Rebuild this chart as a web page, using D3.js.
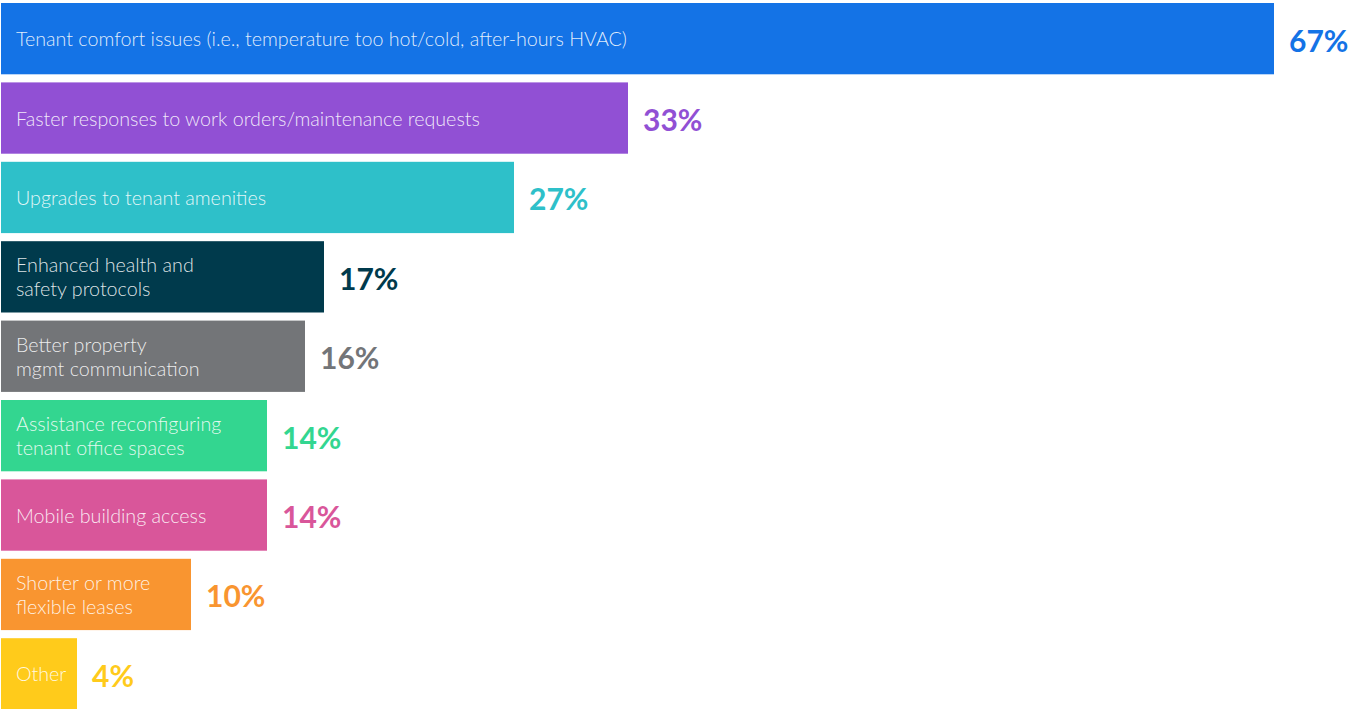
<!DOCTYPE html>
<html>
<head>
<meta charset="utf-8">
<script src="https://cdn.jsdelivr.net/npm/d3@7"></script>
<style>
  html, body { margin: 0; padding: 0; background: #ffffff; }
  svg { display: block; }
  .bar-label { font-family: Lato, "Open Sans", sans-serif; font-weight: 300; font-size: 19.7px; fill: #ffffff; fill-opacity: 0.88; }
  .value-label { font-family: Lato, "Open Sans", sans-serif; font-weight: 700; font-size: 30px; }
</style>
</head>
<body>
<svg id="chart" width="1350" height="709"></svg>
<script>
// Share of respondents citing each improvement
const categories = [
  ["Tenant comfort issues (i.e., temperature too hot/cold, after-hours HVAC)"],
  ["Faster responses to work orders/maintenance requests"],
  ["Upgrades to tenant amenities"],
  ["Enhanced health and", "safety protocols"],
  ["Better property", "mgmt communication"],
  ["Assistance reconfiguring", "tenant office spaces"],
  ["Mobile building access"],
  ["Shorter or more", "flexible leases"],
  ["Other"]
];
const values = [67, 33, 27, 17, 16, 14, 14, 10, 4];
const colors = ["#1473e6", "#9150d4", "#2ec0c9", "#003a4c", "#737578", "#33d690", "#d9569a", "#f99530", "#ffcb1b"];

const svg = d3.select("#chart");
const x0 = 1;

const x = d3.scaleLinear().domain([0, 67]).range([x0, 1274]);
const y = d3.scaleBand()
  .domain(d3.range(values.length))
  .range([3, 709.5])
  .paddingInner(0.102)
  .paddingOuter(0);

const rows = svg.selectAll("g.row")
  .data(values.map((v, i) => ({ v, i, lines: categories[i], color: colors[i] })))
  .join("g")
  .attr("class", "row")
  .attr("transform", d => `translate(0,${y(d.i)})`);

rows.append("rect")
  .attr("x", x0)
  .attr("width", d => x(d.v) - x0)
  .attr("height", y.bandwidth())
  .attr("fill", d => d.color);

// Category names inside the bars, wrapped onto one or two lines
const lineGap = 24;
rows.append("text")
  .attr("class", "bar-label")
  .attr("x", 16)
  .attr("y", d => y.bandwidth() / 2 - 0.5 - (d.lines.length - 1) * lineGap / 2)
  .attr("dominant-baseline", "central")
  .each(function (d) {
    d3.select(this).selectAll("tspan")
      .data(d.lines)
      .join("tspan")
      .attr("x", 16)
      .attr("dy", (t, j) => j === 0 ? 0 : lineGap)
      .text(t => t);
  });

// Percentage to the right of each bar, in the bar's colour
rows.append("text")
  .attr("class", "value-label")
  .attr("x", d => x(d.v) + 15)
  .attr("y", y.bandwidth() / 2 + 1)
  .attr("dominant-baseline", "central")
  .attr("fill", d => d.color)
  .text(d => d.v + "%");
</script>
</body>
</html>
